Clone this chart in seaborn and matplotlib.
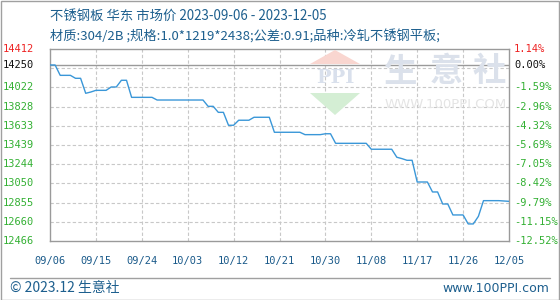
import matplotlib
matplotlib.use("Agg")
import matplotlib.pyplot as plt
from matplotlib.patches import Polygon, Rectangle
import seaborn as sns
import pandas as pd
import numpy as np

# ---- data ----
day_offsets = [0, 1, 2, 4, 5, 6, 7, 8, 9, 11, 12, 13, 14, 15, 16, 20, 21, 30, 31, 32,
               33, 34, 35, 36, 37, 39, 40, 43, 44, 49, 50, 53, 54, 55, 56, 62, 63, 67,
               68, 69, 70, 71, 72, 74, 75, 76, 77, 78, 79, 81, 82, 83, 84, 85, 88, 90]
prices = [14250, 14250, 14145, 14145, 14115, 14115, 13963, 13976, 13993, 13993, 14027,
          14027, 14095, 14095, 13922, 13922, 13895, 13895, 13831, 13831, 13770, 13770,
          13639, 13639, 13690, 13690, 13720, 13720, 13568, 13568, 13544, 13544, 13553,
          13553, 13456, 13456, 13396, 13396, 13315, 13301, 13284, 13284, 13064, 13064,
          12963, 12963, 12841, 12841, 12730, 12730, 12639, 12639, 12716, 12875, 12875,
          12868]
start_date = "2023-09-06"
end_date = "2023-12-05"
base_price = 14250
y_min, y_max = 12466, 14412
left_labels = ["12466", "12660", "12855", "13050", "13244", "13439", "13633", "13828", "14022"]
right_labels = ["-12.52%", "-11.15%", "-9.79%", "-8.42%", "-7.05%", "-5.69%", "-4.32%",
                "-2.96%", "-1.59%"]
x_tick_labels = ["09/06", "09/15", "09/24", "10/03", "10/12", "10/21", "10/30", "11/08",
                 "11/17", "11/26", "12/05"]
title = "不锈钢板 华东 市场价 2023-09-06 - 2023-12-05"
subtitle = "材质:304/2B ;规格:1.0*1219*2438;公差:0.91;品种:冷轧不锈钢平板;"
footer_left = "© 2023.12 生意社"
footer_right = "www.100PPI.com"

dates = pd.to_datetime(start_date) + pd.to_timedelta(day_offsets, unit="D")
df = pd.DataFrame({"date": dates, "price": prices})

sns.set_theme(style="white")
cjk = ["Noto Sans CJK SC", "DejaVu Sans"]
plt.rcParams["font.family"] = cjk

W, H = 560, 300
fig = plt.figure(figsize=(W / 100, H / 100), dpi=100)
fig.patch.set_facecolor("white")

L, R, T, B = 50, 509, 49, 241
ax = fig.add_axes([L / W, 1 - B / H, (R - L) / W, (B - T) / H])
ax.set_facecolor("white")


def fx(x):
    return x / W


def fy(y):
    return 1 - y / H


# watermark
fig.patches.append(Polygon([[fx(335), fy(50)], [fx(310), fy(64)], [fx(360), fy(64)]],
                           closed=True, transform=fig.transFigure, facecolor="#f9d6d0",
                           edgecolor="none", zorder=0))
fig.patches.append(Polygon([[fx(310), fy(93)], [fx(360), fy(93)], [fx(335), fy(115)]],
                           closed=True, transform=fig.transFigure, facecolor="#d4eed4",
                           edgecolor="none", zorder=0))
fig.text(fx(335), fy(78), "PPI", ha="center", va="center", fontsize=14, color="#d9e0ec",
         family="DejaVu Serif", fontweight="bold", zorder=0)
for cx, ch in zip([401, 446, 489], "生意社"):
    fig.text(fx(cx), fy(72), ch, ha="center", va="center", fontsize=24, color="#dbe1eb",
             family=cjk, fontweight="bold", zorder=0)
fig.text(fx(446), fy(105), "WWW.100PPI.COM", ha="center", va="center", fontsize=9.5,
         color="#e4e4e4", family="DejaVu Sans", zorder=0)

sns.lineplot(data=df, x="date", y="price", ax=ax, color="#3a97d8", linewidth=1.0,
             zorder=5)

x0 = pd.to_datetime(start_date)
x1 = pd.to_datetime(end_date)
ax.set_xlim(x0, x1)
ax.set_ylim(y_min, y_max)
ax.patch.set_alpha(0)

# grid
grid_vals = np.linspace(y_min, y_max, 11)
for v in grid_vals[1:-1]:
    ax.axhline(v, color="#c8c8c8", linestyle=(0, (3, 2)), linewidth=0.8, zorder=1)
xt = pd.date_range(x0, x1, freq="9D")
for d in xt[1:-1]:
    ax.axvline(d, color="#c8c8c8", linestyle=(0, (3, 2)), linewidth=0.8, zorder=1)
ax.axhline(base_price, color="#9a9a9a", linewidth=1.0, zorder=2)

for s in ax.spines.values():
    s.set_color("#9a9a9a")
    s.set_linewidth(1.0)

ax.set_xticks(xt)
ax.set_xticklabels(x_tick_labels, family="DejaVu Sans Mono", fontsize=7.5, color="#1a5a8a")
ax.tick_params(axis="x", length=0, pad=11)
ax.set_yticks([])
ax.set_xlabel("")
ax.set_ylabel("")

# left / right axis labels
mono = "DejaVu Sans Mono"
ytr = ax.get_yaxis_transform()
for v, lab, rlab in zip(grid_vals[:-2], left_labels, right_labels):
    ax.text(-0.035, v, lab, transform=ytr, ha="right", va="center",
            fontsize=7.5, family=mono, color="#33b033")
    ax.text(1.011, v, rlab, transform=ytr, ha="left", va="center",
            fontsize=7.5, family=mono, color="#33b033")
ax.text(-0.035, y_max, "14412", transform=ytr, ha="right", va="center",
        fontsize=7.5, family=mono, color="#ee2222")
ax.text(1.011, y_max, "1.14%", transform=ytr, ha="left", va="center",
        fontsize=7.5, family=mono, color="#ee2222")
ax.text(-0.035, base_price, "14250", transform=ytr, ha="right",
        va="center", fontsize=7.5, family=mono, color="#111111")
ax.text(1.011, base_price, "0.00%", transform=ytr, ha="left",
        va="center", fontsize=7.5, family=mono, color="#111111")

# titles
fig.text(fx(50), fy(16), title, ha="left", va="center", fontsize=9.6, color="#1d5f8e",
         family=cjk)
fig.text(fx(50), fy(37), subtitle, ha="left", va="center", fontsize=9.5, color="#1d5f8e",
         family=cjk)

# footer
fig.add_artist(plt.Line2D([fx(10), fx(550)], [fy(277.5), fy(277.5)],
                          transform=fig.transFigure, color="#a0a0a0", linewidth=1.0))
fig.text(fx(10), fy(288), footer_left, ha="left", va="center", fontsize=10,
         color="#1d5f8e", family=cjk)
fig.text(fx(549), fy(288), footer_right, ha="right", va="center", fontsize=9,
         color="#1d5f8e", family="DejaVu Sans")

# outer border
fig.patches.append(Rectangle((0.5 / W, 0.5 / H), 1 - 1.5 / W, 1 - 1.5 / H,
                             transform=fig.transFigure, fill=False, edgecolor="#a0a0a0",
                             linewidth=1.0))

fig.savefig("out.png", dpi=100, facecolor="white")
